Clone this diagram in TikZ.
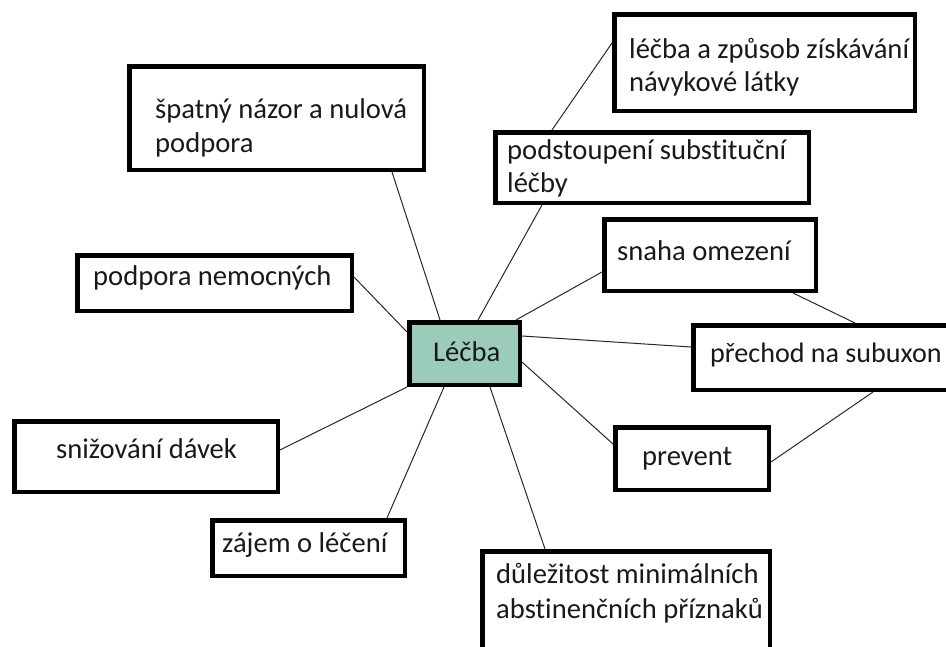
\documentclass[tikz,border=0pt]{standalone}
\usepackage{fontspec}
\setmainfont{Carlito}[Ligatures={NoCommon}]
\usetikzlibrary{backgrounds}
\definecolor{hubfill}{RGB}{155,204,186}
\definecolor{inkline}{RGB}{40,40,40}
\definecolor{inktext}{RGB}{25,25,25}
\begin{document}
\begin{tikzpicture}[x=1pt,y=-1pt,
  box/.style={draw=black,line width=4.5pt,fill=white,rectangle,inner sep=0pt,anchor=north west},
  hub/.style={box,fill=hubfill},
  lbl/.style={anchor=base west,inner sep=0pt,text=inktext,font=\fontsize{28.6}{34}\selectfont},
  link/.style={draw=inkline,line width=1pt}]
\useasboundingbox (0,0) rectangle (946,646);
\clip (0,0) rectangle (946,646);

% boxes: size given as outer size minus the border width
\node[hub] (leb)   at (407,320) [minimum width=110.5pt,minimum height=62.5pt] {};
\node[box] (spat)  at (127,64)  [minimum width=294.5pt,minimum height=103.5pt] {};
\node[box] (zpus)  at (612,12)  [minimum width=300.5pt,minimum height=96.5pt] {};
\node[box] (subst) at (493,130) [minimum width=313.5pt,minimum height=70.5pt] {};
\node[box] (podp)  at (75,253)  [minimum width=274.5pt,minimum height=55.5pt] {};
\node[box] (snaha) at (602,217) [minimum width=211.5pt,minimum height=71.5pt] {};
\node[box] (prech) at (691,323) [minimum width=295.5pt,minimum height=64.5pt] {};
\node[box] (sniz)  at (12,419)  [minimum width=263.5pt,minimum height=70.5pt] {};
\node[box] (prev)  at (613,425) [minimum width=153.5pt,minimum height=62.5pt] {};
\node[box] (zajem) at (210,518) [minimum width=192.5pt,minimum height=55.5pt] {};
\node[box] (dulez) at (480,549) [minimum width=287.5pt,minimum height=115.5pt] {};

% connectors, drawn beneath the boxes
\begin{scope}[on background layer]
\path[link] ([xshift=33pt]leb.north west) -- ([xshift=265pt]spat.south west);
\path[link] ([xshift=71pt]leb.north west) -- ([xshift=49pt]subst.south west);
\path[link] ([xshift=59pt]subst.north west) -- ([yshift=-31pt]zpus.north west);
\path[link] ([yshift=-12pt]leb.north west) -- ([yshift=-24pt]podp.north east);
\path[link] ([xshift=-6pt]leb.north east) -- ([yshift=-55pt]snaha.north west);
\path[link] ([yshift=-16pt]leb.north east) -- ([yshift=-24pt]prech.north west);
\path[link] ([xshift=-25pt]snaha.south east) -- ([xshift=164pt]prech.north west);
\path[link] ([yshift=-42pt]leb.north east) -- ([yshift=-19pt]prev.north west);
\path[link] ([xshift=182pt]prech.south west) -- ([yshift=-37pt]prev.north east);
\path[link] ([xshift=83pt]leb.south west) -- ([xshift=65pt]dulez.north west);
\path[link] ([xshift=37pt]leb.south west) -- ([xshift=177pt]zajem.north west);
\path[link] (leb.south west) -- ([yshift=-31pt]sniz.north east);
\end{scope}

% texts
\node[lbl] (tleb)   at (433,361) {Léčba};
\node[lbl] (tspat1) at (155,118) {špatný názor a nulová};
\node[lbl] (tspat2) at (155,152) {podpora};
\node[lbl] (tzpus1) at (629,58)  {léčba a způsob získávání};
\node[lbl] (tzpus2) at (629,91)  {návykové látky};
\node[lbl] (tsub1)  at (507,159) {podstoupení substituční};
\node[lbl] (tsub2)  at (507,192) {léčby};
\node[lbl] (tpodp)  at (93,285)  {podpora nemocných};
\node[lbl] (tsnaha) at (617,260) {snaha omezení};
\node[lbl,font=\fontsize{28.1}{34}\selectfont] (tprech) at (710,362) {přechod na subuxon};
\node[lbl] (tsniz)  at (56,458)  {snižování dávek};
\node[lbl] (tprev)  at (642,465) {prevent};
\node[lbl] (tzajem) at (222,552) {zájem o léčení};
\node[lbl] (tdul1)  at (496,583) {důležitost minimálních};
\node[lbl] (tdul2)  at (496,618) {abstinenčních příznaků};
\end{tikzpicture}
\end{document}
